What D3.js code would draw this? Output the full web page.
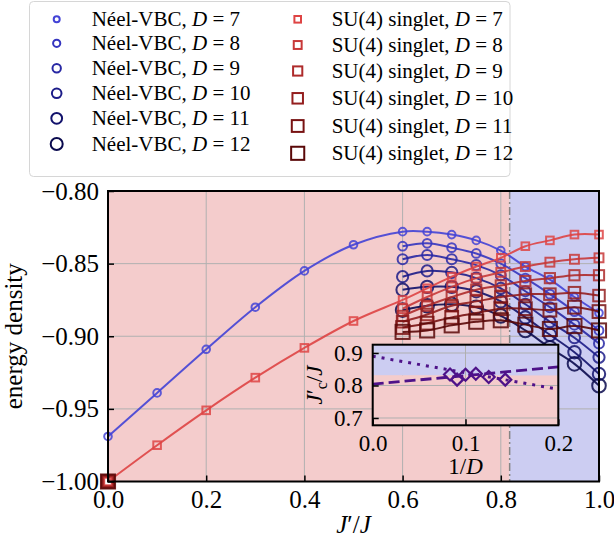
<!DOCTYPE html>
<html>
<head>
<meta charset="utf-8">
<script src="https://cdn.jsdelivr.net/npm/d3@7"></script>
<style>
body { margin: 0; background: #fff; }
svg text { font-family: "Liberation Serif", "DejaVu Serif", serif; fill: #000; }
</style>
</head>
<body>
<svg id="chart" width="614" height="546"></svg>
<script>
// bond dimensions
const dims = [7, 8, 9, 10, 11, 12];

// J'/J grid
const jLow = [0, 0.1, 0.2, 0.3, 0.4, 0.5];
const jHigh = [0.6, 0.65, 0.7, 0.75, 0.8, 0.85, 0.9, 0.95, 1.0];

// Neel-VBC energies (only D=7 has the low J' points)
const neelLowD7 = [-0.969, -0.939, -0.909, -0.880, -0.855, -0.837];
const neelHigh = [
  [-0.828, -0.828, -0.830, -0.834, -0.841, -0.852, -0.861, -0.873, -0.884],
  [-0.838, -0.836, -0.839, -0.843, -0.850, -0.860, -0.871, -0.883, -0.896],
  [-0.847, -0.844, -0.847, -0.851, -0.858, -0.869, -0.880, -0.892, -0.905],
  [-0.859, -0.855, -0.856, -0.860, -0.867, -0.878, -0.890, -0.901, -0.9145],
  [-0.868, -0.866, -0.866, -0.869, -0.876, -0.887, -0.899, -0.911, -0.926],
  [-0.882, -0.879, -0.878, -0.880, -0.886, -0.896, -0.908, -0.919, -0.934]
];

// SU(4) singlet energies
const singletLowD7 = [-1.000, -0.975, -0.951, -0.9285, -0.908, -0.8895];
const singletZero = [-1.0, -1.0, -1.0, -1.0, -1.0]; // D = 8..12 at J' = 0
const singletHigh = [
  [-0.875, -0.867, -0.859, -0.852, -0.846, -0.838, -0.834, -0.830, -0.830],
  [-0.881, -0.873, -0.866, -0.860, -0.856, -0.852, -0.849, -0.847, -0.846],
  [-0.886, -0.879, -0.873, -0.868, -0.865, -0.862, -0.860, -0.858, -0.858],
  [-0.890, -0.885, -0.879, -0.876, -0.873, -0.871, -0.871, -0.870, -0.872],
  [-0.894, -0.891, -0.887, -0.884, -0.881, -0.881, -0.882, -0.880, -0.883],
  [-0.897, -0.896, -0.8925, -0.890, -0.889, -0.892, -0.895, -0.893, -0.896]
];

const xTicks = [0, 0.2, 0.4, 0.6, 0.8, 1.0];
const yTicks = [-1.0, -0.95, -0.9, -0.85, -0.8];
const jcPhase = 0.818;

// inset: critical J'_c/J vs 1/D
const insetInvD = [1 / 12, 1 / 11, 1 / 10, 1 / 9, 1 / 8, 1 / 7];
const insetJc = [0.834, 0.818, 0.833, 0.836, 0.826, 0.818];
const insetDashed = [[0, 0.804], [0.2, 0.857]];
const insetDotted = [[0, 0.890], [0.197, 0.790]];
const insetXTicks = [0, 0.1, 0.2];
const insetYTicks = [0.7, 0.8, 0.9];
const insetBand = 0.831;

// styles
const neelColors = ["#4343d6", "#3535bf", "#2828a4", "#1c1c88", "#12126c", "#0a0a4e"];
const singletColors = ["#de4444", "#c83838", "#ae2b2b", "#941e1e", "#781212", "#5a0808"];
const PINK = "#f4cccc", LAV = "#cccdf2", GRID = "#b0b0b0";

const svg = d3.select("#chart");

// main axes box
const M = { left: 108, right: 599, top: 191, bottom: 481.5 };
const x = d3.scaleLinear().domain([0, 1]).range([M.left, M.right]);
const y = d3.scaleLinear().domain([-1.0, -0.8]).range([M.bottom, M.top]);

svg.append("rect")
  .attr("x", x(0)).attr("y", M.top)
  .attr("width", x(jcPhase) - x(0)).attr("height", M.bottom - M.top)
  .attr("fill", PINK);
svg.append("rect")
  .attr("x", x(jcPhase)).attr("y", M.top)
  .attr("width", x(1) - x(jcPhase)).attr("height", M.bottom - M.top)
  .attr("fill", LAV);

// grid
svg.append("g").selectAll("line").data(xTicks).join("line")
  .attr("x1", d => x(d)).attr("x2", d => x(d))
  .attr("y1", M.top).attr("y2", M.bottom)
  .attr("stroke", GRID).attr("stroke-width", 1);
svg.append("g").selectAll("line").data(yTicks).join("line")
  .attr("y1", d => y(d)).attr("y2", d => y(d))
  .attr("x1", M.left).attr("x2", M.right)
  .attr("stroke", GRID).attr("stroke-width", 1);

// phase boundary
svg.append("line")
  .attr("x1", x(jcPhase)).attr("x2", x(jcPhase))
  .attr("y1", M.top).attr("y2", M.bottom)
  .attr("stroke", "#858585").attr("stroke-width", 1.5)
  .attr("stroke-dasharray", "8,3,2,3");

const curve = d3.line().x(d => x(d[0])).y(d => y(d[1])).curve(d3.curveCatmullRom.alpha(0.5));

function zip(xs, ys) { return xs.map((v, i) => [v, ys[i]]); }

// Neel-VBC series
dims.forEach((D, i) => {
  const pts = (i === 0 ? zip(jLow, neelLowD7) : []).concat(zip(jHigh, neelHigh[i]));
  const c = neelColors[i];
  const r = 3.8 + 0.6 * i;
  const g = svg.append("g");
  g.append("path").attr("d", curve(pts))
    .attr("fill", "none").attr("stroke", c).attr("stroke-width", 2).attr("stroke-opacity", 0.9);
  g.selectAll("circle").data(pts).join("circle")
    .attr("cx", d => x(d[0])).attr("cy", d => y(d[1])).attr("r", r)
    .attr("fill", "none").attr("stroke", c).attr("stroke-width", 2).attr("stroke-opacity", 0.85);
});

// SU(4) singlet series
dims.forEach((D, i) => {
  const linePts = (i === 0 ? zip(jLow, singletLowD7) : []).concat(zip(jHigh, singletHigh[i]));
  const markPts = i === 0 ? linePts : [[0, singletZero[i - 1]]].concat(linePts);
  const c = singletColors[i];
  const h = 3.8 + 0.65 * i;
  const g = svg.append("g");
  g.append("path").attr("d", curve(linePts))
    .attr("fill", "none").attr("stroke", c).attr("stroke-width", 2).attr("stroke-opacity", 0.9);
  g.selectAll("rect").data(markPts).join("rect")
    .attr("x", d => x(d[0]) - h).attr("y", d => y(d[1]) - h)
    .attr("width", 2 * h).attr("height", 2 * h)
    .attr("fill", "none").attr("stroke", c).attr("stroke-width", 2).attr("stroke-opacity", 0.85);
});

// main axes
const xAxis = svg.append("g").attr("transform", `translate(0,${M.bottom})`)
  .call(d3.axisBottom(x).tickValues(xTicks).tickFormat(d3.format(".1f")).tickSize(-6).tickPadding(9));
const yAxis = svg.append("g").attr("transform", `translate(${M.left},0)`)
  .call(d3.axisLeft(y).tickValues(yTicks).tickFormat(d3.format(".2f")).tickSize(-6).tickPadding(9));
[xAxis, yAxis].forEach(a => {
  a.select(".domain").remove();
  a.selectAll(".tick line").attr("stroke", "#000").attr("stroke-width", 1.5);
  a.selectAll(".tick text").attr("font-size", 25).attr("font-family", null);
});
svg.append("rect")
  .attr("x", M.left).attr("y", M.top)
  .attr("width", M.right - M.left).attr("height", M.bottom - M.top)
  .attr("fill", "none").attr("stroke", "#000").attr("stroke-width", 2);

// axis labels
const xl = svg.append("text").attr("x", (M.left + M.right) / 2).attr("y", 533)
  .attr("text-anchor", "middle").attr("font-size", 25);
xl.append("tspan").attr("font-style", "italic").text("J");
xl.append("tspan").text("′/");
xl.append("tspan").attr("font-style", "italic").text("J");

svg.append("text")
  .attr("transform", `translate(22,${(M.top + M.bottom) / 2}) rotate(-90)`)
  .attr("text-anchor", "middle").attr("font-size", 25)
  .text("energy density");

// inset
const I = { left: 372.7, right: 558.3, top: 344.7, bottom: 425.3 };
const ix = d3.scaleLinear().domain([0, 0.2]).range([I.left, I.right]);
const iy = d3.scaleLinear().domain([0.6775, 0.9255]).range([I.bottom, I.top]);

svg.append("rect")
  .attr("x", I.left).attr("y", I.top)
  .attr("width", I.right - I.left).attr("height", iy(insetBand) - I.top)
  .attr("fill", LAV);
svg.append("rect")
  .attr("x", I.left).attr("y", iy(insetBand))
  .attr("width", I.right - I.left).attr("height", I.bottom - iy(insetBand))
  .attr("fill", PINK);

svg.append("g").selectAll("line").data(insetXTicks).join("line")
  .attr("x1", d => ix(d)).attr("x2", d => ix(d))
  .attr("y1", I.top).attr("y2", I.bottom)
  .attr("stroke", GRID).attr("stroke-width", 1);
svg.append("g").selectAll("line").data(insetYTicks).join("line")
  .attr("y1", d => iy(d)).attr("y2", d => iy(d))
  .attr("x1", I.left).attr("x2", I.right)
  .attr("stroke", GRID).attr("stroke-width", 1);

const PURPLE = "#4e1289";
const iline = d3.line().x(d => ix(d[0])).y(d => iy(d[1]));
svg.append("path").attr("d", iline(insetDotted))
  .attr("fill", "none").attr("stroke", PURPLE).attr("stroke-width", 3)
  .attr("stroke-dasharray", "3,6");
svg.append("path").attr("d", iline(insetDashed))
  .attr("fill", "none").attr("stroke", PURPLE).attr("stroke-width", 2.8)
  .attr("stroke-dasharray", "11,5");
svg.append("g").selectAll("path").data(zip(insetInvD, insetJc)).join("path")
  .attr("d", d => {
    const cx = ix(d[0]), cy = iy(d[1]), s = 6;
    return `M${cx},${cy - s}L${cx + s},${cy}L${cx},${cy + s}L${cx - s},${cy}Z`;
  })
  .attr("fill", "none").attr("stroke", PURPLE).attr("stroke-width", 2.2);

const ixAxis = svg.append("g").attr("transform", `translate(0,${I.bottom})`)
  .call(d3.axisBottom(ix).tickValues(insetXTicks).tickFormat(d3.format(".1f")).tickSize(-6).tickPadding(9));
const iyAxis = svg.append("g").attr("transform", `translate(${I.left},0)`)
  .call(d3.axisLeft(iy).tickValues(insetYTicks).tickFormat(d3.format(".1f")).tickSize(-6).tickPadding(10));
[ixAxis, iyAxis].forEach(a => {
  a.select(".domain").remove();
  a.selectAll(".tick line").attr("stroke", "#000").attr("stroke-width", 1.5);
  a.selectAll(".tick text").attr("font-size", 23).attr("font-family", null);
});
svg.append("rect")
  .attr("x", I.left).attr("y", I.top)
  .attr("width", I.right - I.left).attr("height", I.bottom - I.top)
  .attr("fill", "none").attr("stroke", "#000").attr("stroke-width", 2);

const ixl = svg.append("text").attr("x", (I.left + I.right) / 2).attr("y", 474)
  .attr("text-anchor", "middle").attr("font-size", 23);
ixl.append("tspan").text("1/");
ixl.append("tspan").attr("font-style", "italic").text("D");

const iyl = svg.append("text")
  .attr("transform", `translate(322,${(I.top + I.bottom) / 2}) rotate(-90)`)
  .attr("text-anchor", "middle").attr("font-size", 23);
iyl.append("tspan").attr("font-style", "italic").text("J");
iyl.append("tspan").text("′");
iyl.append("tspan").attr("font-size", 16).attr("dy", 5).text("c");
iyl.append("tspan").attr("dy", -5).text("/");
iyl.append("tspan").attr("font-style", "italic").text("J");

// legend
const leg = svg.append("g");
leg.append("rect")
  .attr("x", 29.5).attr("y", 1.5).attr("width", 480.5).attr("height", 175)
  .attr("rx", 4).attr("fill", "#fff").attr("fill-opacity", 0.8)
  .attr("stroke", "#d6d6d6").attr("stroke-width", 1);
const leftRows = [19.3, 43.3, 68.3, 93.3, 118.3, 144];
const rightRows = [19.3, 45, 71, 98.3, 126, 153.3];

function legendText(xp, yp, label, D) {
  const t = leg.append("text").attr("x", xp).attr("y", yp + 7).attr("font-size", 21);
  t.append("tspan").text(label + ", ");
  t.append("tspan").attr("font-style", "italic").text("D");
  t.append("tspan").text(" = " + D);
}
dims.forEach((D, i) => {
  leg.append("circle")
    .attr("cx", 56.7).attr("cy", leftRows[i]).attr("r", 3 + 0.6 * i)
    .attr("fill", "none").attr("stroke", neelColors[i]).attr("stroke-width", 2);
  legendText(91.7, leftRows[i], "Néel-VBC", D);
  const h = 3.3 + 0.65 * i;
  leg.append("rect")
    .attr("x", 297.7 - h).attr("y", rightRows[i] - h).attr("width", 2 * h).attr("height", 2 * h)
    .attr("fill", "none").attr("stroke", singletColors[i]).attr("stroke-width", 2);
  legendText(331.7, rightRows[i], "SU(4) singlet", D);
});
</script>
</body>
</html>
